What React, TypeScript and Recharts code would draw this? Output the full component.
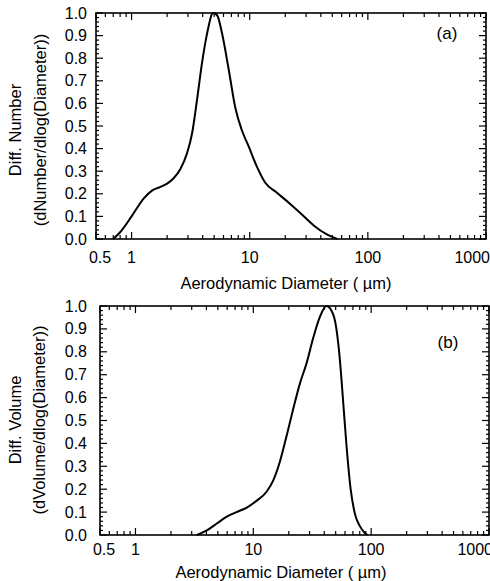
import React from 'react';
import { LineChart, Line, XAxis, YAxis } from 'recharts';

// panel (a): number distribution
const numberDiameter = [0.7, 0.8, 1.0, 1.27, 1.5, 1.7, 2.0, 2.28, 2.59, 2.95, 3.26, 3.59, 3.95, 4.36, 4.9, 5.3, 5.83, 6.64, 7.56, 8.6, 9.8, 11.5, 13.5, 17.0, 22.0, 26.8, 34.8, 45.0, 55.0];
const numberValue = [0.0, 0.03, 0.1, 0.18, 0.215, 0.228, 0.245, 0.27, 0.31, 0.38, 0.47, 0.62, 0.78, 0.91, 1.0, 0.99, 0.91, 0.75, 0.58, 0.48, 0.41, 0.32, 0.25, 0.205, 0.155, 0.115, 0.06, 0.02, 0.0];

// panel (b): volume distribution
const volumeDiameter = [3.32, 4.03, 4.9, 5.95, 7.2, 8.8, 10.7, 13.0, 14.8, 16.8, 19.1, 21.8, 24.8, 28.3, 32.2, 36.6, 41.7, 46.0, 50.0, 53.5, 58.5, 62.0, 67.0, 73.0, 80.0, 88.0, 93.0];
const volumeValue = [0.0, 0.02, 0.05, 0.08, 0.1, 0.12, 0.15, 0.19, 0.24, 0.32, 0.43, 0.55, 0.66, 0.75, 0.86, 0.95, 1.0, 0.98, 0.92, 0.8, 0.55, 0.38, 0.2, 0.09, 0.04, 0.01, 0.0];

const xMajor = [0.5, 1, 10, 100, 1000];
const xTicks = [0.5, 0.6, 0.7, 0.8, 0.9, 1, 2, 3, 4, 5, 6, 7, 8, 9, 10, 20, 30, 40, 50, 60, 70, 80, 90, 100, 200, 300, 400, 500, 600, 700, 800, 900, 1000];
const yMajor = [0, 0.1, 0.2, 0.3, 0.4, 0.5, 0.6, 0.7, 0.8, 0.9, 1.0];
const yTicks = [0, 0.02, 0.04, 0.06, 0.08, 0.1, 0.12, 0.14, 0.16, 0.18, 0.2, 0.22, 0.24, 0.26, 0.28, 0.3, 0.32, 0.34, 0.36, 0.38, 0.4, 0.42, 0.44, 0.46, 0.48, 0.5, 0.52, 0.54, 0.56, 0.58, 0.6, 0.62, 0.64, 0.66, 0.68, 0.7, 0.72, 0.74, 0.76, 0.78, 0.8, 0.82, 0.84, 0.86, 0.88, 0.9, 0.92, 0.94, 0.96, 0.98, 1.0];

const numberData = numberDiameter.map((d, i) => ({ d, v: numberValue[i] }));
const volumeData = volumeDiameter.map((d, i) => ({ d, v: volumeValue[i] }));

const FONT = '"Liberation Sans", Arial, sans-serif';
const isMajorX = (v: number) => xMajor.includes(v);
const isMajorY = (v: number) => yMajor.some(m => Math.abs(m - v) < 1e-9);

const xLabel = (x: number, y: number, v: number) => {
  let tx = x;
  let anchor: any = 'middle';
  if (v === 0.5) tx = x + 4;
  if (v === 1000) { tx = x + 4; anchor = 'end'; }
  return (
    <text x={tx} y={y} textAnchor={anchor} dominantBaseline="central" fontSize={16} fontFamily={FONT} fill="#000">
      {String(v)}
    </text>
  );
};

// stable tick renderers (labels only)
const BottomTickA = (props: any) => (isMajorX(props.payload.value) ? xLabel(props.x, props.y + 18, props.payload.value) : <g />);
const BottomTickB = (props: any) => (isMajorX(props.payload.value) ? xLabel(props.x, props.y + 14, props.payload.value) : <g />);

const yLabel = (x: number, y: number, v: number) => (
  <text x={x} y={y} textAnchor="end" dominantBaseline="central" fontSize={16} fontFamily={FONT} fill="#000">
    {v.toFixed(1)}
  </text>
);
const LeftTickA = (props: any) => (isMajorY(props.payload.value) ? yLabel(props.x - 9, props.y, props.payload.value) : <g />);
const LeftTickB = (props: any) => (isMajorY(props.payload.value) ? yLabel(props.x - 13, props.y, props.payload.value) : <g />);

// plot frame with inward ticks on all four sides, placed from the tick arrays
const Frame = ({ left, top, w, h }: { left: number; top: number; w: number; h: number }) => {
  const lx = (v: number) => left + (Math.log10(v) - Math.log10(0.5)) * (w / Math.log10(2000));
  const ly = (v: number) => top + h - v * h;
  return (
    <g stroke="#000" fill="none">
      <rect x={left} y={top} width={w} height={h} strokeWidth={1.6} />
      {xTicks.map(v => {
        const len = isMajorX(v) ? 7 : 4;
        const x = lx(v);
        return (
          <g key={`x${v}`} strokeWidth={1.2}>
            <line x1={x} x2={x} y1={top + h} y2={top + h - len} />
            <line x1={x} x2={x} y1={top} y2={top + len} />
          </g>
        );
      })}
      {yTicks.map(v => {
        const len = isMajorY(v) ? 7 : 3;
        const y = ly(v);
        return (
          <g key={`y${v}`} strokeWidth={1.2}>
            <line x1={left} x2={left + len} y1={y} y2={y} />
            <line x1={left + w} x2={left + w - len} y1={y} y2={y} />
          </g>
        );
      })}
    </g>
  );
};

const Titles = ({ line1, line2, x1, x2, cy, cx, xcy, tag, tx, ty, h, frame }: any) => (
  <svg width={490} height={h} style={{ position: 'absolute', left: 0, top: 0, overflow: 'visible', pointerEvents: 'none' }}>
    <Frame {...frame} />
    <g fontFamily={FONT} fill="#000">
      <text x={x1} y={cy} fontSize={16.5} textAnchor="middle" dominantBaseline="central" transform={`rotate(-90, ${x1}, ${cy})`}>{line1}</text>
      <text x={x2} y={cy} fontSize={16.5} textAnchor="middle" dominantBaseline="central" transform={`rotate(-90, ${x2}, ${cy})`}>{line2}</text>
      <text x={cx} y={xcy} fontSize={16.5} textAnchor="middle" dominantBaseline="central">Aerodynamic Diameter ( µm)</text>
      <text x={tx} y={ty} fontSize={17} textAnchor="middle" dominantBaseline="central">{tag}</text>
    </g>
  </svg>
);

const marginA = { top: 13, right: 4, bottom: 0, left: 0 };
const marginB = { top: 16, right: 1, bottom: 0, left: 0 };
const frameA = { left: 96, top: 13, w: 390, h: 226 };
const frameB = { left: 100, top: 16, w: 389, h: 229 };

export default function App() {
  return (
    <div style={{ position: 'absolute', left: 0, top: 0, width: 490, height: 581, overflow: 'hidden' }}>
      <div style={{ position: 'relative', width: 490, height: 290 }}>
        <LineChart width={490} height={290} data={numberData} margin={marginA}>
          <XAxis xAxisId="b" dataKey="d" type="number" scale="log" domain={[0.5, 1000]}
            ticks={xTicks} interval={0} tickSize={0} tickMargin={0} tickLine={false}
            axisLine={false} height={51} tick={BottomTickA} />
          <YAxis yAxisId="l" type="number" domain={[0, 1]} ticks={yTicks} interval={0}
            tickSize={0} tickMargin={0} tickLine={false} axisLine={false}
            width={96} tick={LeftTickA} />
          <Line xAxisId="b" yAxisId="l" dataKey="v" type="monotone" stroke="#000" strokeWidth={2} dot={false} isAnimationActive={false} />
        </LineChart>
        <Titles h={290} frame={frameA} line1="Diff. Number" line2="(dNumber/dlog(Diameter))" x1={15} x2={40} cy={130}
          cx={286} xcy={283} tag="(a)" tx={447} ty={33} />
      </div>
      <div style={{ position: 'relative', width: 490, height: 291 }}>
        <LineChart width={490} height={291} data={volumeData} margin={marginB}>
          <XAxis xAxisId="b" dataKey="d" type="number" scale="log" domain={[0.5, 1000]}
            ticks={xTicks} interval={0} tickSize={0} tickMargin={0} tickLine={false}
            axisLine={false} height={46} tick={BottomTickB} />
          <YAxis yAxisId="l" type="number" domain={[0, 1]} ticks={yTicks} interval={0}
            tickSize={0} tickMargin={0} tickLine={false} axisLine={false}
            width={100} tick={LeftTickB} />
          <Line xAxisId="b" yAxisId="l" dataKey="v" type="monotone" stroke="#000" strokeWidth={2} dot={false} isAnimationActive={false} />
        </LineChart>
        <Titles h={291} frame={frameB} line1="Diff. Volume" line2="(dVolume/dlog(Diameter))" x1={15} x2={39} cy={130}
          cx={281} xcy={282} tag="(b)" tx={448} ty={52} />
      </div>
    </div>
  );
}
